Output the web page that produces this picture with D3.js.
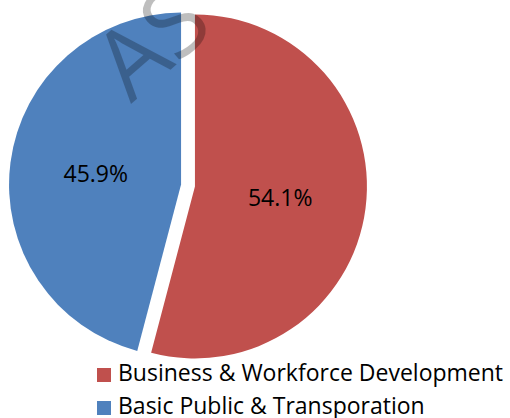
<!DOCTYPE html>
<html>
<head>
<meta charset="utf-8">
<script src="https://cdn.jsdelivr.net/npm/d3@7"></script>
<style>
  body { margin: 0; background: #fff; }
  svg { display: block; }
</style>
</head>
<body>
<div id="chart"></div>
<script>
// Dados do gráfico
const categories = ['Business & Workforce Development', 'Basic Public & Transporation'];
const values = [54.1, 45.9];
const colors = ['#C0504D', '#4F81BD'];

const width = 510, height = 418;
const cx = 188, cy = 185.5, radius = 172, explode = 7;

const svg = d3.select('#chart').append('svg')
  .attr('width', width)
  .attr('height', height);

const pie = d3.pie().sort(null).value(d => d.value);
const arc = d3.arc().innerRadius(0).outerRadius(radius);

const data = categories.map((c, i) => ({ name: c, value: values[i], color: colors[i] }));
const arcs = pie(data);

// Fatias (explodidas ao longo da bissetriz)
const slices = svg.selectAll('.slice')
  .data(arcs)
  .enter()
  .append('g')
  .attr('class', 'slice')
  .attr('transform', d => {
    const a = (d.startAngle + d.endAngle) / 2;
    return `translate(${cx + explode * Math.sin(a)},${cy - explode * Math.cos(a)})`;
  });

slices.append('path')
  .attr('d', arc)
  .attr('fill', d => d.data.color);

slices.append('text')
  .attr('x', d => arc.centroid(d)[0])
  .attr('y', d => arc.centroid(d)[1])
  .attr('dy', '0.36em')
  .attr('text-anchor', 'middle')
  .style('font-family', '"Open Sans", sans-serif')
  .style('font-size', '23px')
  .attr('fill', '#000')
  .text(d => d.data.value.toFixed(1) + '%');

// Marca d'água
svg.append('text')
  .attr('transform', 'translate(131,104) rotate(-41)')
  .style('font-family', '"Open Sans", sans-serif')
  .style('font-size', '96px')
  .style('font-weight', 500)
  .attr('fill', '#000')
  .attr('opacity', 0.25)
  .text('AS');

// Legenda
const legend = svg.append('g')
  .attr('transform', 'translate(97,368)');

const rows = legend.selectAll('.row')
  .data(data)
  .enter()
  .append('g')
  .attr('class', 'row')
  .attr('transform', (d, i) => `translate(0,${i * 33})`);

rows.append('rect')
  .attr('width', 14)
  .attr('height', 14)
  .attr('fill', d => d.color);

rows.append('text')
  .attr('x', 21)
  .attr('y', 13)
  .style('font-family', '"Open Sans", sans-serif')
  .style('font-size', '23px')
  .attr('fill', '#000')
  .text(d => d.name);
</script>
</body>
</html>
